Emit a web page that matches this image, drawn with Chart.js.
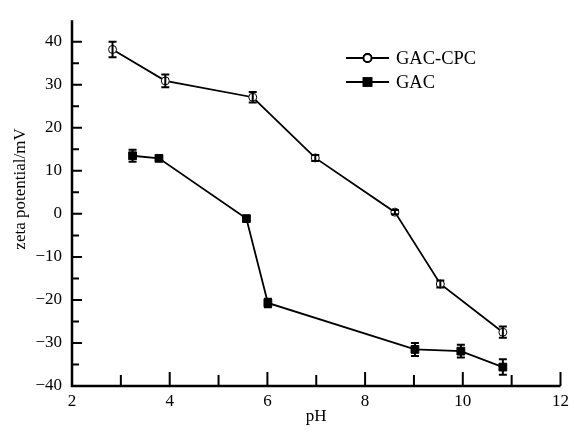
<!DOCTYPE html>
<html lang="en">
<head>
    <meta charset="UTF-8">
    <title>Zeta potential vs pH</title>
    <script src="https://cdn.jsdelivr.net/npm/chart.js"></script>
    <style>
        html, body { margin: 0; padding: 0; background: #fff; }
        #wrap { width: 574px; height: 433px; }
    </style>
</head>
<body>
    <div id="wrap"><canvas id="zetaChart" width="574" height="433"></canvas></div>

    <script>
        // data
        const cpcPH   = [2.83, 3.91, 5.70, 6.98, 8.61, 9.54, 10.82];
        const cpcZeta = [38.2, 30.9, 27.1, 13.0, 0.4, -16.3, -27.5];
        const cpcErr  = [1.8, 1.5, 1.2, 0.7, 0.5, 0.8, 1.3];

        const gacPH   = [3.24, 3.78, 5.57, 6.01, 9.02, 9.96, 10.82];
        const gacZeta = [13.5, 12.9, -1.1, -20.7, -31.5, -31.9, -35.6];
        const gacErr  = [1.4, 0.5, 0.5, 1.0, 1.5, 1.5, 1.8];

        const xTicks = [2, 4, 6, 8, 10, 12];
        const yTicks = [-40, -30, -20, -10, 0, 10, 20, 30, 40];

        const FONT = '"Liberation Serif", "Times New Roman", serif';

        function toPoints(xs, ys) {
            return xs.map((x, i) => ({ x: x, y: ys[i] }));
        }

        // error bars, axes with inward ticks, y title and legend
        const decorations = {
            id: 'decorations',
            afterDatasetsDraw(chart) {
                const ctx = chart.ctx;
                const xs = chart.scales.x, ys = chart.scales.y;
                ctx.save();
                ctx.strokeStyle = '#000';

                // error bars
                ctx.lineWidth = 2;
                [[cpcPH, cpcZeta, cpcErr], [gacPH, gacZeta, gacErr]].forEach(([px, pz, pe]) => {
                    px.forEach((x, i) => {
                        const cx = xs.getPixelForValue(x);
                        const top = ys.getPixelForValue(pz[i] + pe[i]);
                        const bot = ys.getPixelForValue(pz[i] - pe[i]);
                        ctx.beginPath();
                        ctx.moveTo(cx, top); ctx.lineTo(cx, bot);
                        ctx.moveTo(cx - 4, top); ctx.lineTo(cx + 4, top);
                        ctx.moveTo(cx - 4, bot); ctx.lineTo(cx + 4, bot);
                        ctx.stroke();
                    });
                });
                ctx.restore();
            },
            afterDraw(chart) {
                const ctx = chart.ctx;
                const xs = chart.scales.x, ys = chart.scales.y;
                const area = chart.chartArea;
                ctx.save();
                ctx.strokeStyle = '#000';
                ctx.lineWidth = 2.5;
                ctx.beginPath();
                ctx.moveTo(area.left, area.top);
                ctx.lineTo(area.left, area.bottom);
                ctx.lineTo(area.right, area.bottom);
                ctx.stroke();

                ctx.lineWidth = 2;
                ctx.beginPath();
                for (let v = 3; v <= 12; v++) {
                    const px = xs.getPixelForValue(v);
                    const len = v % 2 === 0 ? 14 : 11;
                    ctx.moveTo(px, area.bottom);
                    ctx.lineTo(px, area.bottom - len);
                }
                for (let v = -35; v <= 40; v += 5) {
                    const py = ys.getPixelForValue(v);
                    const len = v % 10 === 0 ? 10 : 7;
                    ctx.moveTo(area.left, py);
                    ctx.lineTo(area.left + len, py);
                }
                ctx.stroke();

                // y title
                ctx.fillStyle = '#000';
                ctx.font = '17px ' + FONT;
                ctx.textAlign = 'center';
                ctx.textBaseline = 'middle';
                ctx.translate(21, 189);
                ctx.rotate(-Math.PI / 2);
                ctx.fillText('zeta potential/mV', 0, 0);
                ctx.restore();

                // legend
                ctx.save();
                const lx = 346, lw = 43;
                const rows = [
                    { y: 58, label: 'GAC-CPC', ds: chart.data.datasets[0] },
                    { y: 82, label: 'GAC', ds: chart.data.datasets[1] }
                ];
                rows.forEach(r => {
                    ctx.strokeStyle = '#000';
                    ctx.lineWidth = 1.8;
                    ctx.beginPath();
                    ctx.moveTo(lx, r.y); ctx.lineTo(lx + lw, r.y);
                    ctx.stroke();
                    Chart.helpers.drawPoint(ctx, {
                        pointStyle: r.ds.pointStyle,
                        radius: r.ds.pointRadius,
                        borderWidth: 1
                    }, lx + lw / 2, r.y);
                    ctx.fillStyle = r.ds.pointBackgroundColor;
                    ctx.strokeStyle = '#000';
                    ctx.fill();
                    ctx.stroke();
                    ctx.fillStyle = '#000';
                    ctx.font = '18.5px ' + FONT;
                    ctx.textAlign = 'left';
                    ctx.textBaseline = 'middle';
                    ctx.fillText(r.label, lx + lw + 7, r.y + 1);
                });
                ctx.restore();
            }
        };

        const minus = v => String(v).replace('-', '\u2212');

        const ctx = document.getElementById('zetaChart').getContext('2d');
        const zetaChart = new Chart(ctx, {
            type: 'scatter',
            data: {
                datasets: [{
                    label: 'GAC-CPC',
                    data: toPoints(cpcPH, cpcZeta),
                    showLine: true,
                    borderColor: '#000',
                    borderWidth: 1.8,
                    pointStyle: 'circle',
                    pointRadius: 4,
                    pointBackgroundColor: '#fff',
                    pointBorderColor: '#000',
                    pointBorderWidth: 1
                }, {
                    label: 'GAC',
                    data: toPoints(gacPH, gacZeta),
                    showLine: true,
                    borderColor: '#000',
                    borderWidth: 1.8,
                    pointStyle: 'rect',
                    pointRadius: 5.5,
                    pointBackgroundColor: '#000',
                    pointBorderColor: '#000',
                    pointBorderWidth: 1
                }]
            },
            options: {
                responsive: false,
                animation: false,
                layout: { padding: { top: 17, right: 12, left: 0, bottom: 0 } },
                plugins: {
                    legend: { display: false },
                    tooltip: { enabled: false }
                },
                scales: {
                    x: {
                        type: 'linear',
                        min: 2, max: 12,
                        afterBuildTicks: s => { s.ticks = xTicks.map(v => ({ value: v })); },
                        afterFit: s => { s.height = 47; },
                        grid: { display: false, drawTicks: false },
                        border: { display: false },
                        ticks: { color: '#000', padding: 5, font: { family: FONT, size: 17 } },
                        title: {
                            display: true, text: 'pH', color: '#000',
                            font: { family: FONT, size: 17 },
                            padding: { top: 0, bottom: 6 }
                        }
                    },
                    y: {
                        type: 'linear',
                        min: -40, max: 45,
                        afterBuildTicks: s => { s.ticks = yTicks.map(v => ({ value: v })); },
                        afterFit: s => { s.width = 72; },
                        grid: { display: false, drawTicks: false },
                        border: { display: false },
                        ticks: {
                            color: '#000', padding: 10,
                            font: { family: FONT, size: 17 },
                            callback: v => minus(v)
                        }
                    }
                }
            },
            plugins: [decorations]
        });
    </script>
</body>
</html>
